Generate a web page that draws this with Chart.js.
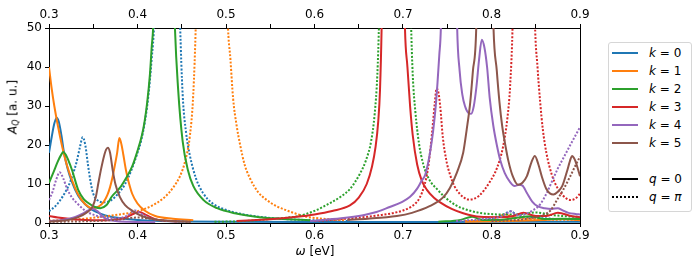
<!DOCTYPE html>
<html><head><meta charset="utf-8">
<script src="https://cdn.jsdelivr.net/npm/chart.js@4/dist/chart.umd.min.js"></script>
<style>
html,body{margin:0;padding:0;background:#fff;}
#wrap{position:relative;width:700px;height:268px;font-family:"DejaVu Sans",sans-serif;color:#000;overflow:hidden;}
#c{position:absolute;left:0;top:0;}
.legend{position:absolute;left:608px;top:42px;width:84px;height:170px;border:1px solid #d6d6d6;border-radius:3px;box-sizing:border-box;background:#fff;}
.row{position:absolute;left:0;width:84px;height:18px;font-size:12px;line-height:18px;}
.row .sw{position:absolute;left:3px;top:8px;width:26px;height:0;border-top:2px solid;}
.row .sw.dot{border-top:2px dotted #000;}
.row .tx{position:absolute;left:40px;top:0;white-space:nowrap;}
.ylab{position:absolute;left:13px;top:107px;transform:translate(-50%,-50%) rotate(-90deg);font-size:12px;white-space:nowrap;}
.ylab sub{font-size:8px;vertical-align:-2px;}
.xlab{position:absolute;left:315px;top:251px;transform:translate(-50%,-50%);font-size:12px;white-space:nowrap;}
</style>
</head><body>
<div id="wrap">
<canvas id="c" width="700" height="268"></canvas>
<div class="ylab"><i>A</i><sub><i>Q</i></sub> [a. u.]</div>
<div class="xlab"><i>ω</i> [eV]</div>
<div class="legend" id="legend"></div>
</div>
<script>
// ---- data (omega in eV, A_Q in a.u.; null = gap) ----
const k0_q0_w = [0.300,0.303,0.306,0.3087,0.311,0.314,0.317,0.321,0.326,0.333,0.340,0.348,0.358,0.370,0.385,0.400,0.420,0.450,0.500,0.600,0.700,0.800,0.900];
const k0_q0_A = [18,22,25.5,27,26,22.5,18,14,10.5,7,5,3.5,2.4,1.6,1.1,0.8,0.55,0.4,0.3,0.25,0.25,0.3,0.3];

const k0_qpi_w = [0.300,0.308,0.316,0.322,0.327,0.331,0.335,0.338,0.341,0.344,0.347,0.350,0.355,0.362,0.370,0.378,0.386,0.393,0.400,0.404,0.408,0.412,0.416,0.419,0.426,0.434,0.442,0.448,0.451,0.455,0.459,0.466,0.474,0.485,0.501,0.520,0.538,0.560,0.600,0.640,0.700,0.780,0.800,0.812,0.818,0.822,0.828,0.840,0.860,0.880,0.900];
const k0_qpi_A = [3,4.5,7,9.5,12.5,15.5,19.5,22,20,15,10.5,7.5,5.8,5.3,5.8,7.5,10,13.5,18,21,25.5,32,42,52,110,400,110,52,33,23,17.5,11.5,7.7,5,3.3,2.2,1.6,1.1,0.7,0.5,null,0.5,1.2,2.0,2.7,3.0,2.2,1.5,1.2,1.0,1.2];

const k1_q0_w = [0.300,0.303,0.306,0.310,0.315,0.320,0.326,0.333,0.341,0.349,0.356,0.362,0.366,0.369,0.372,0.375,0.377,0.3795,0.382,0.384,0.387,0.390,0.394,0.400,0.408,0.420,0.440,0.463,0.600,0.770,0.820,0.860,0.880,0.900];
const k1_q0_A = [40,34.5,30,25,19.5,15,11,7.3,4.8,3.8,4.2,5.5,7.2,9.2,12,15.5,18,21.8,20,17.5,13.5,10.5,7.5,5,3.2,1.8,1.1,0.7,null,0.3,0.5,0.8,1.0,0.7];

const k1_qpi_w = [0.300,0.320,0.340,0.360,0.380,0.400,0.416,0.430,0.440,0.448,0.454,0.459,0.463,0.466,0.475,0.484,0.493,0.502,0.505,0.508,0.512,0.516,0.521,0.527,0.536,0.546,0.558,0.569,0.580,0.591,0.605,0.620,0.635,0.700,0.770,0.800,0.810,0.815,0.825,0.850,0.900];
const k1_qpi_A = [0.6,0.8,1.1,1.6,2.2,3.0,4.4,6.5,9,12,16,22,33,52,150,400,150,52,42,32,25,20,15,11.5,8,5.9,4.2,3.2,2.3,1.6,1.2,0.9,0.7,null,0.5,0.8,1.8,2.2,1.5,1.0,0.8];

const k2_q0_w = [0.300,0.305,0.310,0.314,0.316,0.319,0.322,0.326,0.333,0.339,0.344,0.352,0.358,0.365,0.371,0.380,0.387,0.394,0.400,0.405,0.408,0.411,0.414,0.416,0.418,0.423,0.429,0.436,0.442,0.446,0.451,0.457,0.463,0.475,0.490,0.510,0.538,0.560,0.595,0.700,0.740,0.765,0.778,0.790,0.810,0.830,0.845,0.860,0.880,0.900];
const k2_q0_A = [10.3,13,15.8,17.6,18.2,17.5,16,13.6,8.5,6.2,5.2,4.1,3.8,4.6,6.8,9,11.5,14.5,18.5,22.5,26,31,38,45,52,110,400,110,52,34,21,13.5,9.5,5.8,3.8,2.5,1.5,1.1,0.7,null,0.3,0.8,1.6,0.8,0.8,1.4,1.7,1.0,1.1,1.0];

const k2_qpi_w = [0.487,0.520,0.550,0.570,0.580,0.599,0.6175,0.630,0.640,0.651,0.658,0.664,0.668,0.671,0.673,0.682,0.691,0.700,0.709,0.711,0.714,0.718,0.723,0.730,0.738,0.748,0.760,0.775,0.790,0.810,0.830,0.850,0.870,0.900];
const k2_qpi_A = [0.3,0.5,1.0,1.4,1.7,3.0,5.1,6.8,8.7,12.5,16,21,28,38,52,150,400,150,52,38,28.5,20.5,15,11,8.8,6.5,4.5,3.2,2.5,2.2,2.2,2.7,2.0,1.5];

const k3_q0_w = [0.300,0.310,0.330,0.350,0.370,0.385,0.395,0.402,0.410,0.420,0.430,0.445,0.480,0.512,0.530,0.546,0.580,0.600,0.620,0.640,0.650,0.659,0.665,0.669,0.672,0.674,0.676,0.682,0.689,0.696,0.702,0.705,0.708,0.711,0.716,0.721,0.727,0.735,0.742,0.755,0.768,0.787,0.810,0.825,0.836,0.850,0.862,0.875,0.890,0.900];
const k3_q0_A = [1.8,1.4,0.9,0.7,0.8,1.3,2.3,2.8,2.0,1.0,0.6,0.4,null,0.5,0.7,0.9,1.6,2.2,3.1,4.5,6.5,10,14.5,19.5,26,34,52,150,400,150,52,40,30,22.5,15,11,8.5,6.5,5.3,3.6,2.5,1.6,1.5,1.8,2.6,1.8,1.8,2.6,1.8,1.5];

const k3_qpi_w = [0.600,0.620,0.640,0.660,0.674,0.690,0.700,0.708,0.714,0.719,0.724,0.728,0.731,0.734,0.736,0.738,0.740,0.742,0.745,0.749,0.753,0.758,0.764,0.769,0.774,0.780,0.786,0.792,0.798,0.806,0.813,0.818,0.821,0.824,0.830,0.837,0.843,0.849,0.852,0.855,0.858,0.862,0.868,0.874,0.881,0.889,0.895,0.900];
const k3_qpi_A = [0.5,0.8,1.2,1.6,2,2.6,3.2,4.0,5.0,6.5,9.5,13.6,19,26,31,34.5,33.5,30,22,16,12.5,9.5,7.5,6.5,6,6.2,7,8.5,10.5,14,19.5,27,35,52,130,400,130,52,40,31,24,18,12.5,9.2,7,5.9,6.3,7.5];

const k4_q0_w = [0.300,0.315,0.329,0.338,0.345,0.350,0.355,0.360,0.366,0.375,0.390,0.420,0.500,0.595,0.630,0.655,0.670,0.685,0.698,0.708,0.716,0.721,0.725,0.728,0.731,0.734,0.737,0.739,0.741,0.743,0.747,0.752,0.757,0.761,0.764,0.767,0.770,0.774,0.777,0.780,0.783,0.786,0.789,0.792,0.795,0.798,0.802,0.806,0.810,0.815,0.821,0.826,0.831,0.835,0.840,0.846,0.852,0.860,0.868,0.875,0.880,0.887,0.895,0.900];
const k4_q0_A = [0.5,0.8,1.5,2.4,3.3,3.6,3.0,1.8,0.9,0.5,0.3,0.2,null,0.5,1.2,2.0,2.8,4.1,5.3,6.7,8.8,10.8,12.3,15,18.7,23.5,30,36,43,52,120,400,120,52,39,33,30,28.2,28,30,35,42,47,45,40,32,25,20,16,12.8,10.5,9.5,9.8,9.6,7.7,5.5,4.3,3.8,3.6,3.8,3.3,2.6,2.3,2.2];

const k4_qpi_w = [0.300,0.304,0.308,0.312,0.316,0.320,0.326,0.332,0.340,0.346,0.360,0.375,0.388,0.397,0.404,0.415,0.430,0.450,0.600,0.760,0.790,0.810,0.818,0.822,0.828,0.838,0.847,0.855,0.862,0.868,0.875,0.882,0.889,0.895,0.900];
const k4_qpi_A = [5.9,8,11,13,11.5,9,6.5,5,3.3,2.5,1.5,1.2,1.8,3.2,2.4,1.2,0.6,0.4,null,0.5,1.0,1.6,2.6,3.0,2.0,2.3,3.3,4.8,7.5,10.5,14,17,20,22.5,24.6];

const k5_q0_w = [0.300,0.320,0.333,0.342,0.349,0.353,0.356,0.359,0.362,0.3645,0.3665,0.369,0.372,0.375,0.380,0.386,0.395,0.405,0.420,0.440,0.460,0.550,0.637,0.660,0.693,0.710,0.730,0.745,0.753,0.761,0.768,0.772,0.776,0.779,0.783,0.787,0.792,0.797,0.802,0.806,0.809,0.812,0.816,0.819,0.824,0.830,0.835,0.840,0.845,0.849,0.853,0.857,0.862,0.866,0.870,0.875,0.880,0.885,0.8895,0.891,0.894,0.898,0.900];
const k5_q0_A = [0.4,0.7,1.5,2.6,4.1,6.8,10.5,14,17,18.8,19.3,18,13.5,10,6.7,4.6,3.0,1.8,0.9,0.5,0.3,null,0.8,1.1,1.8,2.6,4.3,6.5,9,13,18,24,31,39,52,120,400,120,52,39,31,25,19.5,16,12,9.8,10.3,12,15.5,17.2,15,11.8,8.7,7.6,7.3,8,9.5,13,16.5,17.2,16.3,13.6,12];

const k5_qpi_w = [0.300,0.350,0.380,0.400,0.410,0.430,0.460,0.600,0.800,0.830,0.850,0.860,0.867,0.874,0.881,0.889,0.895,0.900];
const k5_qpi_A = [0.3,0.5,0.9,1.4,1.2,0.6,0.3,null,0.5,0.8,1.5,2.2,3.3,5.9,8.5,12,14.8,17];

const kLabels = ['0','1','2','3','4','5'];
const xTicks = [0.3,0.4,0.5,0.6,0.7,0.8,0.9];
const yTicks = [0,10,20,30,40,50];

const colors = ['#1f77b4','#ff7f0e','#2ca02c','#d62728','#9467bd','#8c564b'];
const series = [
  [k0_q0_w,k0_q0_A,k0_qpi_w,k0_qpi_A],
  [k1_q0_w,k1_q0_A,k1_qpi_w,k1_qpi_A],
  [k2_q0_w,k2_q0_A,k2_qpi_w,k2_qpi_A],
  [k3_q0_w,k3_q0_A,k3_qpi_w,k3_qpi_A],
  [k4_q0_w,k4_q0_A,k4_qpi_w,k4_qpi_A],
  [k5_q0_w,k5_q0_A,k5_qpi_w,k5_qpi_A]
];
const datasets = [];
let idx = 0;
series.forEach((s,k)=>{
  [[s[0],s[1],false],[s[2],s[3],true]].forEach(([w,a,dot])=>{
    datasets.push({
      label:'k='+k+(dot?' q=pi':' q=0'),
      data:w.map((x,i)=>({x:x,y:a[i]})),
      borderColor:colors[k], borderWidth:2,
      borderDash:dot?[2,1.7]:[], borderCapStyle:'butt',
      pointRadius:0, fill:false, spanGaps:false,
      cubicInterpolationMode:'monotone',
      order:12-idx
    });
    idx++;
  });
});

Chart.defaults.font.family = '"DejaVu Sans", sans-serif';
Chart.defaults.font.size = 12;
Chart.defaults.color = '#000';

const isMajor = v => Math.abs(v*10-Math.round(v*10))<1e-6;
const xAxis = (pos,h)=>({
  type:'linear', position:pos, min:0.3, max:0.9,
  afterBuildTicks: s=>{ const t=[]; for(let i=0;i<=12;i++){t.push({value:+(0.3+i*0.05).toFixed(2)});} s.ticks=t; },
  ticks:{autoSkip:false, maxRotation:0, padding:2, color:'#000',
    callback:v=> (xTicks.some(t=>Math.abs(t-v)<1e-6)? v.toFixed(1):'')},
  grid:{display:true, drawOnChartArea:false, drawTicks:true, tickLength:4, color:'#000', lineWidth:1},
  border:{display:true, color:'#000', width:1},
  afterFit: s=>{ s.height=h; }
});

new Chart(document.getElementById('c'),{
  type:'line',
  data:{datasets},
  options:{
    responsive:false, animation:false, devicePixelRatio:1,
    layout:{padding:0},
    plugins:{legend:{display:false}, tooltip:{enabled:false}},
    scales:{
      x: xAxis('bottom',45),
      x2: xAxis('top',28),
      y:{type:'linear', position:'left', min:0, max:50,
        afterBuildTicks: s=>{ s.ticks = yTicks.map(v=>({value:v})); },
        ticks:{padding:3, color:'#000'},
        grid:{display:true, drawOnChartArea:false, drawTicks:true, tickLength:4, color:'#000', lineWidth:1},
        border:{display:true, color:'#000', width:1},
        afterFit: s=>{ s.width=49; }},
      y2:{type:'linear', position:'right', min:0, max:50,
        ticks:{display:false},
        grid:{display:false, drawTicks:false},
        border:{display:true, color:'#000', width:1},
        afterFit: s=>{ s.width=120; }}
    }
  }
});

// legend (HTML, real text)
const lg = document.getElementById('legend');
const rowTops = [1.3,19.2,37.1,55,72.9,90.8,126.6,144.5];
kLabels.forEach((k,i)=>{
  const r=document.createElement('div'); r.className='row'; r.style.top=rowTops[i]+'px';
  r.innerHTML='<span class="sw" style="border-top-color:'+colors[i]+'"></span><span class="tx"><i>k</i> = '+k+'</span>';
  lg.appendChild(r);
});
[['0',false],['π',true]].forEach(([q,dot],j)=>{
  const r=document.createElement('div'); r.className='row'; r.style.top=rowTops[6+j]+'px';
  r.innerHTML='<span class="sw'+(dot?' dot':'')+'" style="border-top-color:#000"></span><span class="tx"><i>q</i> = '+(dot?'<i>π</i>':q)+'</span>';
  lg.appendChild(r);
});
</script>
</body></html>
